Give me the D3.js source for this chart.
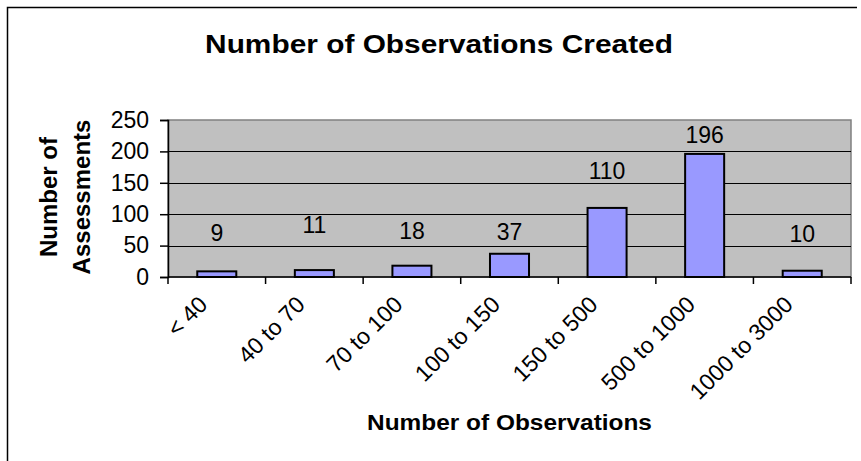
<!DOCTYPE html>
<html>
<head>
<meta charset="utf-8">
<script src="https://cdn.jsdelivr.net/npm/d3@7"></script>
<style>
  html, body { margin: 0; padding: 0; background: #ffffff; }
  svg { display: block; font-family: "Liberation Sans", Arial, sans-serif; }
</style>
</head>
<body>
<svg id="chart" width="861" height="461"></svg>
<script>
// Observation-count buckets and how many assessments fall in each
const categories = ["< 40", "40 to 70", "70 to 100", "100 to 150", "150 to 500", "500 to 1000", "1000 to 3000"];
const assessments = [9, 11, 18, 37, 110, 196, 10];
const yTicks = [0, 50, 100, 150, 200, 250];
// how far (px) each value label sits above its bar top
const labelLift = [38, 45, 35, 22, 37, 19, 37];

const svg = d3.select("#chart");
const plot = { left: 168, right: 851, top: 120, bottom: 277 };

// outer chart frame (left and top edges)
svg.append("path")
  .attr("d", "M7.5,461 V7.5 H857")
  .attr("fill", "none").attr("stroke", "#000").attr("stroke-width", 1.5);

const x = d3.scaleBand().domain(categories).range([plot.left, plot.right]).paddingInner(0).paddingOuter(0);
const y = d3.scaleLinear().domain([0, 250]).range([plot.bottom, plot.top]);

// plot area background
svg.append("rect")
  .attr("x", plot.left).attr("y", plot.top)
  .attr("width", plot.right - plot.left).attr("height", plot.bottom - plot.top)
  .attr("fill", "#c0c0c0").attr("stroke", "#808080").attr("stroke-width", 1.5);

// horizontal gridlines
svg.append("g").selectAll("line")
  .data(yTicks.filter(d => d > 0 && d < 250))
  .join("line")
  .attr("x1", plot.left).attr("x2", plot.right)
  .attr("y1", d => Math.round(y(d)) + 0.5).attr("y2", d => Math.round(y(d)) + 0.5)
  .attr("stroke", "#000").attr("stroke-width", 1);

// bars: width = band / (1 + 1.5 gap)
const barW = x.bandwidth() / 2.5;
svg.append("g").selectAll("rect")
  .data(assessments)
  .join("rect")
  .attr("x", (d, i) => x(categories[i]) + (x.bandwidth() - barW) / 2)
  .attr("y", d => y(d))
  .attr("width", barW)
  .attr("height", d => y(0) - y(d))
  .attr("fill", "#9999ff").attr("stroke", "#000").attr("stroke-width", 2);

// y axis
const yAxis = d3.axisLeft(y).tickValues(yTicks).tickSize(8).tickPadding(11);
const gy = svg.append("g").attr("transform", `translate(${plot.left},0)`).call(yAxis);
gy.select(".domain").attr("stroke", "#000").attr("stroke-width", 1.5);
gy.selectAll(".tick line").attr("stroke", "#000").attr("stroke-width", 1.5);
gy.selectAll(".tick text").attr("font-size", 23).attr("fill", "#000")
  .attr("font-family", "'Liberation Sans', Arial, sans-serif");

// x axis with ticks at category boundaries
const gx = svg.append("g").attr("transform", `translate(0,${plot.bottom})`);
gx.append("line")
  .attr("x1", plot.left).attr("x2", plot.right).attr("y1", 0).attr("y2", 0)
  .attr("stroke", "#000").attr("stroke-width", 1.5);
const bounds = categories.map(c => x(c)).concat([plot.right]);
gx.selectAll("line.tk").data(bounds).join("line").attr("class", "tk")
  .attr("x1", d => d).attr("x2", d => d).attr("y1", 0).attr("y2", 7)
  .attr("stroke", "#000").attr("stroke-width", 1.5);
gx.selectAll("text").data(categories).join("text")
  .attr("transform", d => `translate(${x(d) + x.bandwidth() / 2 - 8},${306 - plot.bottom}) rotate(-45)`)
  .attr("text-anchor", "end")
  .attr("font-size", 23).attr("fill", "#000")
  .text(d => d);

// value labels
svg.append("g").selectAll("text")
  .data(assessments)
  .join("text")
  .attr("x", (d, i) => x(categories[i]) + x.bandwidth() / 2)
  .attr("y", (d, i) => y(d) - labelLift[i])
  .attr("dy", "0.35em")
  .attr("text-anchor", "middle")
  .attr("font-size", 23).attr("fill", "#000")
  .text(d => d);

// horizontally widened bold title text, centred on cx with the given width
function wideTitle(text, size, cx, baseline, width) {
  const t = svg.append("text")
    .attr("text-anchor", "middle")
    .attr("font-size", size).attr("font-weight", "bold")
    .text(text);
  const natural = t.node().getComputedTextLength();
  const k = width / natural;
  t.attr("transform", `translate(${cx},${baseline}) scale(${k},1)`);
  return t;
}
wideTitle("Number of Observations Created", 25, 439, 53, 468);
wideTitle("Number of Observations", 21.5, (plot.left + plot.right) / 2, 430, 285);

const yt = svg.append("text")
  .attr("transform", "translate(0,197) rotate(-90)")
  .attr("text-anchor", "middle")
  .attr("font-size", 24).attr("font-weight", "bold");
yt.append("tspan").attr("x", 0).attr("y", 57).text("Number of");
yt.append("tspan").attr("x", 0).attr("y", 90).text("Assessments");
</script>
</body>
</html>
